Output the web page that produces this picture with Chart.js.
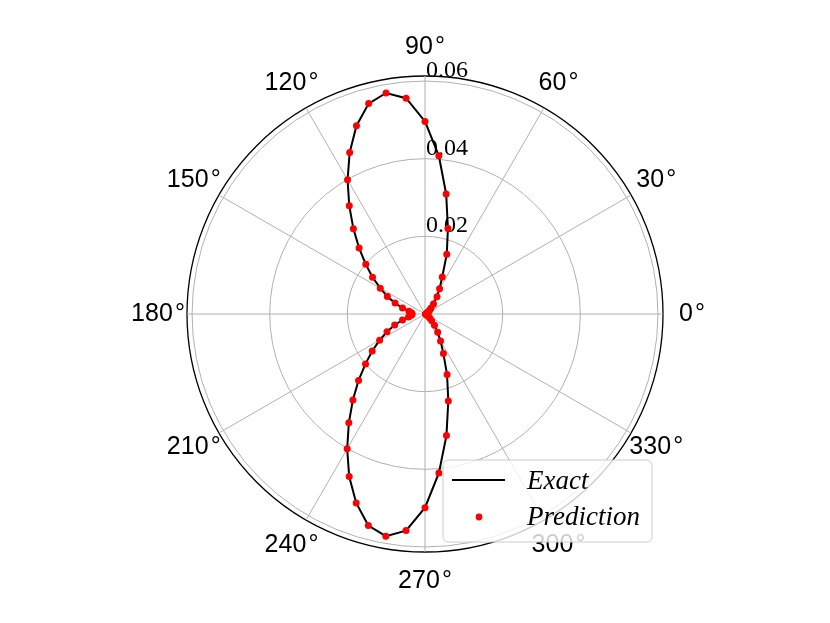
<!DOCTYPE html>
<html>
<head>
<meta charset="utf-8">
<script src="https://cdn.jsdelivr.net/npm/chart.js@4"></script>
<style>
  body { margin: 0; background: #fff; }
</style>
</head>
<body>
<canvas id="myChart" width="830" height="623"></canvas>
<script>
// polar angles (deg, counter-clockwise from 0 at the right)
const thetaDeg = [0,5,10,15,20,25,30,35,40,45,50,55,60,65,70,75,80,85,
  90,95,100,105,110,115,120,125,130,135,140,145,150,155,160,165,170,175,
  180,185,190,195,200,205,210,215,220,225,230,235,240,245,250,255,260,265,
  270,275,280,285,290,295,300,305,310,315,320,325,330,335,340,345,350,355]

const exactR = [0.0002,0.0002,0.0003,0.0004,0.0005,0.0007,0.0009,0.0012,0.0016,0.0022,0.0034,0.0054,0.0075,0.0105,0.0164,0.0228,0.0314,0.0409,
  0.0496,0.0558,0.0578,0.0561,0.0516,0.0459,0.0399,0.0340,0.0287,0.0240,0.0199,0.0165,0.0133,0.0107,0.0082,0.0060,0.0042,0.0035,
  0.0033,0.0035,0.0043,0.0060,0.0083,0.0108,0.0135,0.0166,0.0200,0.0242,0.0289,0.0342,0.0401,0.0462,0.0518,0.0564,0.0581,0.0560,
  0.0499,0.0411,0.0318,0.0232,0.0166,0.0112,0.0080,0.0057,0.0038,0.0024,0.0016,0.0011,0.0008,0.0006,0.0004,0.0003,0.0002,0.0002]

const predictionR = [0.0002,0.0002,0.0003,0.0004,0.0005,0.0007,0.0009,0.0012,0.0016,0.0022,0.0034,0.0054,0.0075,0.0105,0.0164,0.0228,0.0314,0.0409,
  0.0496,0.0558,0.0578,0.0561,0.0516,0.0459,0.0399,0.0340,0.0287,0.0240,0.0199,0.0165,0.0133,0.0107,0.0082,0.0060,0.0042,0.0035,
  0.0033,0.0035,0.0043,0.0060,0.0083,0.0108,0.0135,0.0166,0.0200,0.0242,0.0289,0.0342,0.0401,0.0462,0.0518,0.0564,0.0581,0.0560,
  0.0499,0.0411,0.0318,0.0232,0.0166,0.0112,0.0080,0.0057,0.0038,0.0024,0.0016,0.0011,0.0008,0.0006,0.0004,0.0003,0.0002,0.0002]

const radialTicks = [0.02, 0.04, 0.06]
const rMax = 0.0613
const angleTickStep = 30

// radar goes clockwise from the top, so walk the angles from 90 downwards
const chartAngles = thetaDeg.map((_, i) => (90 - 5 * i + 360) % 360)
const pick = (arr) => chartAngles.map(a => arr[thetaDeg.indexOf(a)])

const ctx = document.getElementById('myChart').getContext('2d')

const tickLabels = {
    id: 'tickLabels',
    beforeDatasetsDraw(chart) {
        const r = chart.scales.r
        const c = chart.ctx
        c.save()
        c.font = '24px "Liberation Serif"'
        c.fillStyle = '#000'
        c.textAlign = 'left'
        c.textBaseline = 'alphabetic'
        radialTicks.forEach(v => {
            const d = r.getDistanceFromCenterForValue(v)
            c.fillText(v.toFixed(2), r.xCenter + 1, r.yCenter - d - 4)
        })
        c.restore()
    }
}

const angleLabels = {
    id: 'angleLabels',
    afterDraw(chart) {
        const r = chart.scales.r
        const c = chart.ctx
        c.save()
        c.font = '25px "Liberation Sans"'
        c.fillStyle = '#000'
        c.textAlign = 'center'
        c.textBaseline = 'middle'
        r.getLabels().forEach((lab, i) => {
            if (lab % angleTickStep !== 0) return
            const p = r.getPointPosition(i, r.drawingArea + 29)
            c.fillText(lab + '\u200a°', p.x, p.y)
        })
        c.restore()
    }
}

const boxLegend = {
    id: 'boxLegend',
    afterDraw(chart) {
        const c = chart.ctx
        const ds = chart.data.datasets
        const x = 443, y = 460, w = 209, h = 82
        c.save()
        c.beginPath()
        c.roundRect(x, y, w, h, 5)
        c.fillStyle = 'rgba(255,255,255,0.8)'
        c.fill()
        c.strokeStyle = '#cccccc'
        c.lineWidth = 1
        c.stroke()

        c.strokeStyle = ds[0].borderColor
        c.lineWidth = ds[0].borderWidth
        c.beginPath()
        c.moveTo(x + 9, y + 20)
        c.lineTo(x + 62, y + 20)
        c.stroke()

        c.fillStyle = ds[1].pointBackgroundColor
        c.beginPath()
        c.arc(x + 36, y + 57, 3.4, 0, Math.PI * 2)
        c.fill()

        c.fillStyle = '#000'
        c.font = 'italic 27px "Liberation Serif"'
        c.textAlign = 'left'
        c.textBaseline = 'middle'
        c.fillText(ds[0].label, x + 84, y + 22)
        c.fillText(ds[1].label, x + 84, y + 58)
        c.restore()
    }
}

const config = {
    type: 'radar',
    data: {
        labels: chartAngles,
        datasets: [
            {
                label: 'Exact',
                data: pick(exactR),
                borderColor: '#000',
                borderWidth: 2,
                pointRadius: 0,
                fill: false,
                tension: 0,
                order: 1,
            },
            {
                label: 'Prediction',
                data: pick(predictionR),
                showLine: false,
                pointRadius: 3.5,
                pointBorderWidth: 0,
                pointBackgroundColor: '#ff0000',
                pointBorderColor: '#ff0000',
                fill: false,
                order: 0,
            },
        ],
    },
    options: {
        responsive: false,
        animation: false,
        events: [],
        layout: {
            padding: { left: 20, right: 0, top: 76, bottom: 71 }
        },
        plugins: {
            legend: { display: false },
            tooltip: { enabled: false },
        },
        scales: {
            r: {
                min: 0,
                max: rMax,
                startAngle: 0,
                afterBuildTicks: (scale) => {
                    scale.ticks = [0, ...radialTicks, rMax].map(v => ({ value: v }))
                },
                ticks: { display: false },
                pointLabels: { display: false },
                grid: {
                    circular: true,
                    color: (c) => c.tick && c.tick.value >= rMax ? '#000' : '#b0b0b0',
                    lineWidth: (c) => c.tick && c.tick.value >= rMax ? 1.3 : 1,
                },
                angleLines: {
                    display: true,
                    color: '#b0b0b0',
                    lineWidth: (c) => c.label % angleTickStep === 0 ? 1 : 0,
                },
            },
        },
    },
    plugins: [tickLabels, angleLabels, boxLegend],
}

const myChart = new Chart(ctx, config)
</script>
</body>
</html>
